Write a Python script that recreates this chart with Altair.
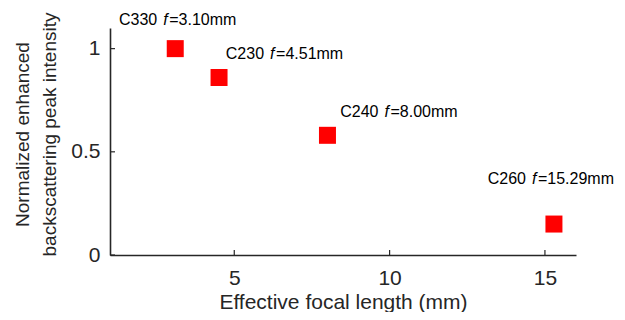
import altair as alt
import pandas as pd

# ---- data ----
names = ["C330", "C230", "C240", "C260"]
focal = [3.10, 4.51, 8.00, 15.29]
intensity = [1.00, 0.86, 0.58, 0.15]
x_ticks = [5, 10, 15]
y_ticks = [0, 0.5, 1]

# label placement (style only): horizontal offset of the italic "f", vertical offset
label_style = {
    "C330": (-11, -29),
    "C230": (52, -24),
    "C240": (58, -23),
    "C260": (-21, -45),
}

df = pd.DataFrame({
    "name": names,
    "focal": focal,
    "intensity": intensity,
    "rest": ["=%.2fmm" % f for f in focal],
    "f": ["f"] * len(names),
})

W, H = 466, 227
FONT = "Liberation Sans"
AX = "#262626"

xs = alt.Scale(domain=[1, 16], nice=False, zero=False)
ys = alt.Scale(domain=[0, 1.1], nice=False)

base = alt.Chart(df)

points = base.mark_point(shape="square", filled=True, size=289, color="#FF0000", opacity=1).encode(
    x=alt.X("focal:Q", scale=xs,
            axis=alt.Axis(values=x_ticks, title="Effective focal length (mm)", tickSize=0,
                          labelPadding=12, labelFontSize=21, titleFontSize=21,
                          titleBaseline="alphabetic", titleY=53, titleFontWeight="normal",
                          grid=False)),
    y=alt.Y("intensity:Q", scale=ys,
            axis=alt.Axis(values=y_ticks, format="~g",
                          title=["Normalized enhanced", "backscattering peak intensity"],
                          tickSize=0, labelPadding=10, labelFontSize=21, titleFontSize=19,
                          titleLineHeight=27, titleX=-88, titleY=106, titleAlign="center",
                          titleBaseline="middle", titleAngle=-90, titleFontWeight="normal",
                          grid=False)),
)

layers = [points]
for n in names:
    fdx, dy = label_style[n]
    sub = base.transform_filter(alt.datum.name == n)
    enc = dict(x=alt.X("focal:Q", scale=xs), y=alt.Y("intensity:Q", scale=ys))
    layers.append(sub.mark_text(align="right", baseline="middle", dx=fdx - 7, dy=dy,
                                fontSize=16, font=FONT, color="black").encode(text="name:N", **enc))
    layers.append(sub.mark_text(align="left", baseline="middle", dx=fdx - 1, dy=dy,
                                fontSize=16, font=FONT, fontStyle="italic", color="black").encode(text="f:N", **enc))
    layers.append(sub.mark_text(align="left", baseline="middle", dx=fdx + 5, dy=dy,
                                fontSize=16, font=FONT, color="black").encode(text="rest:N", **enc))

xt = alt.Chart(pd.DataFrame({"v": x_ticks})).mark_rule(color=AX, strokeWidth=1.2).encode(
    x=alt.X("v:Q", scale=xs), y=alt.value(H), y2=alt.value(H - 5))
yt = alt.Chart(pd.DataFrame({"v": y_ticks})).mark_rule(color=AX, strokeWidth=1.2).encode(
    y=alt.Y("v:Q", scale=ys), x=alt.value(0), x2=alt.value(5))
layers += [xt, yt]

chart = alt.layer(*layers).properties(
    width=W, height=H,
    autosize=alt.AutoSizeParams(type="none"),
    padding={"left": 102, "top": 20, "right": 41, "bottom": 57},
).configure_view(stroke=None).configure_axis(
    labelFont=FONT, titleFont=FONT, labelColor=AX, titleColor=AX,
    domainColor=AX, domainWidth=1.6,
).configure_text(font=FONT)

chart.save("out.html", embed_options={"renderer": "svg", "actions": False})
